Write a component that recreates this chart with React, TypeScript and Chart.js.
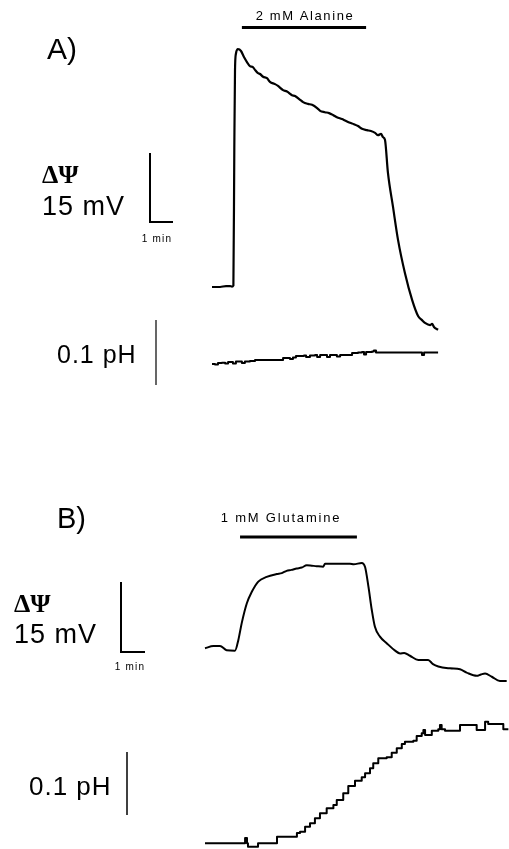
import React, { useEffect, useRef } from "react";
import { Chart, registerables } from "chart.js";

Chart.register(...registerables);

// ---------- DATA (time in min, ΔΨ in mV, ΔpH in pH units) ----------
// Panel A – 2 mM Alanine
const psiA: [number, number][] = [
  [0, 0], [0.35, 0], [0.61, 0.2], [0.78, 0.2], [0.87, 0.1], [0.93, 0.3],
  [0.97, 30.0], [1.0, 47.0], [1.04, 50.7], [1.13, 51.7],
  [1.26, 51.3], [1.39, 50.0], [1.52, 48.9], [1.65, 48.0], [1.78, 47.8],
  [1.87, 47.2], [2.0, 46.5], [2.09, 46.3], [2.22, 45.7], [2.39, 45.4],
  [2.52, 44.6], [2.74, 44.1], [2.87, 43.7], [3.09, 42.8], [3.26, 42.5],
  [3.48, 41.7], [3.61, 41.5], [3.83, 40.7], [3.96, 40.2], [4.17, 39.8],
  [4.35, 39.6], [4.57, 38.9], [4.7, 38.3], [4.91, 38.0], [5.09, 37.8],
  [5.26, 37.4], [5.43, 36.9], [5.65, 36.5], [5.78, 36.2], [6.0, 35.7],
  [6.17, 35.4], [6.35, 35.0], [6.52, 34.4], [6.74, 34.1], [6.91, 33.9],
  [7.09, 33.5], [7.22, 33.0], [7.35, 33.3], [7.43, 32.6], [7.52, 32.0],
  [7.65, 24.8], [7.87, 17.4], [8.09, 10.2], [8.39, 3.0], [8.7, -2.8],
  [8.96, -6.3], [9.13, -7.2], [9.26, -7.8], [9.48, -8.3], [9.57, -8.0],
  [9.65, -8.7], [9.83, -9.3],
];
const pHA: [number, number][] = [
  [0, 0], [0.13, -0.0008], [0.26, 0.0015], [0.43, 0.002], [0.57, 0.0008],
  [0.7, 0.0031], [0.91, 0.0008], [1.04, 0.0038], [1.3, 0.0015], [1.43, 0.0038],
  [1.65, 0.0046], [1.87, 0.0062], [3.09, 0.0092], [3.39, 0.0077], [3.52, 0.01],
  [3.65, 0.0123], [4.0, 0.0131], [4.09, 0.0108], [4.26, 0.0131], [4.48, 0.0138],
  [4.57, 0.0108], [4.7, 0.0138], [5.0, 0.0108], [5.13, 0.0138], [5.43, 0.0115],
  [5.57, 0.0138], [6.09, 0.0169], [6.35, 0.0177], [6.52, 0.0185], [6.61, 0.0146],
  [6.7, 0.0185], [6.96, 0.0192], [7.04, 0.0208], [7.13, 0.0177], [9.13, 0.0138],
  [9.22, 0.0177], [9.83, 0.0177],
];
const alanineOn: [number, number] = [1.3, 6.7];

// Panel B – 1 mM Glutamine
const psiB: [number, number][] = [
  [0, 0], [0.35, 0.5], [0.625, 0.5], [0.9, -0.4], [1.25, -0.5], [1.39, 1.8],
  [1.53, 5.4], [1.74, 9.6], [1.95, 12.1], [2.22, 14.3], [2.57, 15.3],
  [2.99, 15.9], [3.2, 16.1], [3.4, 16.6], [3.6, 16.8], [3.82, 17.1],
  [4.03, 17.3], [4.24, 17.8], [4.45, 17.7], [4.65, 17.6], [4.93, 17.5],
  [5.0, 18.1], [5.5, 18.1], [6.04, 18.1], [6.2, 18.0], [6.53, 18.3],
  [6.67, 17.4], [6.81, 13.2], [6.95, 8.2], [7.08, 4.6], [7.29, 2.5],
  [7.57, 1.1], [7.92, -0.5], [8.125, -1.1], [8.3, -1.0], [8.54, -1.6],
  [8.89, -2.5], [9.3, -2.5], [9.5, -3.4], [9.72, -3.9], [10.21, -4.3],
  [10.625, -4.5], [10.9, -5.2], [11.32, -5.9], [11.5, -5.6], [11.67, -5.4],
  [11.95, -6.1], [12.29, -7.0], [12.57, -7.0],
];
const pHB: [number, number][] = [
  [0, 0], [1.67, 0.0084], [1.75, 0], [1.79, -0.0054], [2.21, 0], [3.0, 0.0105],
  [3.83, 0.0163], [3.96, 0.0184], [4.17, 0.0263], [4.375, 0.0317], [4.58, 0.0397],
  [4.79, 0.0476], [5.07, 0.0556], [5.35, 0.0608], [5.49, 0.0687], [5.76, 0.0794],
  [5.97, 0.091], [6.25, 0.0994], [6.53, 0.1048], [6.67, 0.1111], [6.875, 0.119],
  [7.01, 0.127], [7.22, 0.1349], [7.57, 0.1365], [7.78, 0.1438], [7.99, 0.1508],
  [8.2, 0.1576], [8.33, 0.1613], [8.68, 0.1629], [8.82, 0.1703], [9.03, 0.1746],
  [9.1, 0.18], [9.17, 0.1719], [9.3, 0.1719], [9.45, 0.1787], [9.72, 0.181],
  [9.79, 0.1878], [9.86, 0.181], [10.0, 0.1787], [10.49, 0.1787], [10.625, 0.1878],
  [11.32, 0.1798], [11.67, 0.193], [11.8, 0.1894], [12.43, 0.181], [12.64, 0.181],
];
const glutamineOn: [number, number] = [1.46, 6.33];

// Scale bar values
const SCALE_MV = 15;
const SCALE_MIN = 1;
const SCALE_PH = 0.1;

// Labels
const panelLabels = ["A)", "B)"];
const drugLabels = ["2 mM Alanine", "1 mM Glutamine"];
const psiLabel = "ΔΨ";
const mvLabel = "15 mV";
const minLabel = "1 min";
const pHLabel = "0.1 pH";

// ---------- LAYOUT ----------
const W = 509;
const H = 849;
const LAY = {
  A: { x0: 212, pxPerMin: 23, psi0: 287, pxPerMV: 4.6, pH0: 364, pxPerPH: 650 },
  B: { x0: 205, pxPerMin: 24, psi0: 648.3, pxPerMV: 4.667, pH0: 843.3, pxPerPH: 630 },
};

const xAxis = (x0: number, ppu: number) => ({
  type: "linear" as const, display: false, bounds: "data" as const,
  min: -x0 / ppu, max: (W - x0) / ppu,
});
const yAxis = (y0: number, ppu: number) => ({
  type: "linear" as const, display: false, bounds: "data" as const,
  min: (y0 - H) / ppu, max: y0 / ppu,
});

const SANS = '"Liberation Sans", Arial, Helvetica, sans-serif';
const SERIF = '"Liberation Serif", "Times New Roman", serif';

const toPts = (arr: [number, number][]) => arr.map(([x, y]) => ({ x, y }));

const overlay = {
  id: "overlay",
  afterDatasetsDraw(chart: any) {
    const ctx: CanvasRenderingContext2D = chart.ctx;
    const s = chart.scales;
    ctx.save();
    ctx.fillStyle = "#000";
    ctx.strokeStyle = "#000";
    ctx.lineCap = "butt";

    const line = (x1: number, y1: number, x2: number, y2: number, w: number) => {
      ctx.lineWidth = w;
      ctx.beginPath();
      ctx.moveTo(x1, y1);
      ctx.lineTo(x2, y2);
      ctx.stroke();
    };
    const text = (t: string, x: number, y: number, font: string, align: CanvasTextAlign, ls = 0) => {
      ctx.font = font;
      (ctx as any).letterSpacing = ls + "px";
      ctx.textAlign = align;
      ctx.textBaseline = "alphabetic";
      ctx.fillText(t, x, y);
    };
    const len = (sc: any, v: number) => Math.abs(sc.getPixelForValue(v) - sc.getPixelForValue(0));

    // drug application bars
    line(s.xA.getPixelForValue(alanineOn[0]), 27.5, s.xA.getPixelForValue(alanineOn[1]), 27.5, 3);
    line(s.xB.getPixelForValue(glutamineOn[0]), 537, s.xB.getPixelForValue(glutamineOn[1]), 537, 3);
    text(drugLabels[0], 305, 20, `13px ${SANS}`, "center", 1.6);
    text(drugLabels[1], 281, 522, `13px ${SANS}`, "center", 1.8);

    // panel labels
    text(panelLabels[0], 47, 59, `30px ${SANS}`, "left");
    text(panelLabels[1], 57, 528, `29px ${SANS}`, "left");

    // ΔΨ scale bars (L shapes)
    const drawL = (cx: number, cy: number, sy: any, sx: any) => {
      const vh = len(sy, SCALE_MV);
      const hw = len(sx, SCALE_MIN);
      ctx.lineWidth = 2;
      ctx.beginPath();
      ctx.moveTo(cx, cy - vh);
      ctx.lineTo(cx, cy);
      ctx.lineTo(cx + hw, cy);
      ctx.stroke();
      return hw;
    };
    drawL(150, 222, s.yA, s.xA);
    drawL(121, 652, s.yB, s.xB);
    text(minLabel, 157, 242, `10px ${SANS}`, "center", 1.2);
    text(minLabel, 130, 670, `10px ${SANS}`, "center", 1.2);

    // pH scale bars
    const phA = len(s.yApH, SCALE_PH);
    const phB = len(s.yBpH, SCALE_PH);
    line(156, 352.5 - phA / 2, 156, 352.5 + phA / 2, 1.2);
    line(127, 783.5 - phB / 2, 127, 783.5 + phB / 2, 1.5);

    // axis labels
    text(psiLabel, 42, 183, `bold 26px ${SERIF}`, "left");
    text(mvLabel, 42, 215, `27px ${SANS}`, "left", 1);
    text(pHLabel, 57, 363, `25px ${SANS}`, "left", 1);
    text(psiLabel, 14, 612, `bold 26px ${SERIF}`, "left");
    text(mvLabel, 14, 643, `27px ${SANS}`, "left", 1);
    text(pHLabel, 29, 795, `26px ${SANS}`, "left", 1);

    ctx.restore();
  },
};

export default function App() {
  const ref = useRef<HTMLCanvasElement | null>(null);

  useEffect(() => {
    if (!ref.current) return;
    const base = {
      showLine: true,
      pointRadius: 0,
      borderColor: "#000",
      backgroundColor: "#000",
      borderJoinStyle: "round" as const,
      fill: false,
    };
    const chart = new Chart(ref.current, {
      type: "scatter",
      data: {
        datasets: [
          { ...base, label: "ΔΨ A", data: toPts(psiA), xAxisID: "xA", yAxisID: "yA", borderWidth: 2.2, cubicInterpolationMode: "monotone" },
          { ...base, label: "pH A", data: toPts(pHA), xAxisID: "xA", yAxisID: "yApH", borderWidth: 2, stepped: true },
          { ...base, label: "ΔΨ B", data: toPts(psiB), xAxisID: "xB", yAxisID: "yB", borderWidth: 2, cubicInterpolationMode: "monotone" },
          { ...base, label: "pH B", data: toPts(pHB), xAxisID: "xB", yAxisID: "yBpH", borderWidth: 2, stepped: true },
        ],
      },
      options: {
        animation: false,
        responsive: false,
        maintainAspectRatio: false,
        devicePixelRatio: 1,
        events: [],
        layout: { padding: 0 },
        plugins: { legend: { display: false }, tooltip: { enabled: false }, title: { display: false } },
        scales: {
          xA: xAxis(LAY.A.x0, LAY.A.pxPerMin),
          yA: yAxis(LAY.A.psi0, LAY.A.pxPerMV),
          yApH: yAxis(LAY.A.pH0, LAY.A.pxPerPH),
          xB: xAxis(LAY.B.x0, LAY.B.pxPerMin),
          yB: yAxis(LAY.B.psi0, LAY.B.pxPerMV),
          yBpH: yAxis(LAY.B.pH0, LAY.B.pxPerPH),
        } as any,
      },
      plugins: [overlay],
    });
    return () => chart.destroy();
  }, []);

  return (
    <div style={{ position: "fixed", left: 0, top: 0, width: W, height: H, background: "#fff" }}>
      <canvas ref={ref} width={W} height={H} style={{ display: "block", width: W, height: H }} />
    </div>
  );
}
